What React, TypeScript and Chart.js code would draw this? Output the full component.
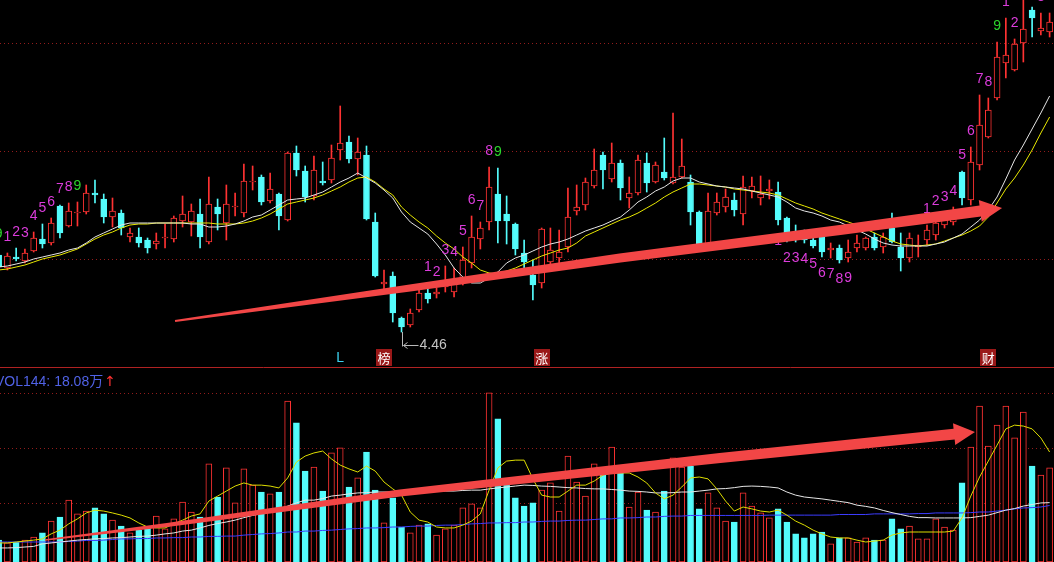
import React, { useEffect, useRef } from 'react';
import { Chart, registerables } from 'chart.js';

Chart.register(...registerables);

// trading-day index (-1 = bar partly cut at the left edge)
const days = [
  -1,
  0, 1, 2, 3, 4, 5, 6, 7, 8, 9,
  10, 11, 12, 13, 14, 15, 16, 17, 18, 19,
  20, 21, 22, 23, 24, 25, 26, 27, 28, 29,
  30, 31, 32, 33, 34, 35, 36, 37, 38, 39,
  40, 41, 42, 43, 44, 45, 46, 47, 48, 49,
  50, 51, 52, 53, 54, 55, 56, 57, 58, 59,
  60, 61, 62, 63, 64, 65, 66, 67, 68, 69,
  70, 71, 72, 73, 74, 75, 76, 77, 78, 79,
  80, 81, 82, 83, 84, 85, 86, 87, 88, 89,
  90, 91, 92, 93, 94, 95, 96, 97, 98, 99,
  100, 101, 102, 103, 104, 105, 106, 107, 108, 109,
  110, 111, 112, 113, 114, 115, 116, 117, 118, 119,
];

const open = [
  5.23,
  5.10, 5.21, 5.17, 5.27, 5.39, 5.35, 5.72, 5.52, 5.65, 5.66,
  5.85, 5.79, 5.61, 5.65, 5.41, 5.41, 5.38, 5.34, 5.40, 5.39,
  5.57, 5.56, 5.64, 5.36, 5.71, 5.55, 5.71, 5.65, 5.96, 6.01,
  5.77, 5.84, 5.58, 6.25, 6.07, 5.82, 5.97, 5.98, 6.28, 6.36,
  6.19, 6.23, 5.56, 4.94, 5.02, 4.60, 4.53, 4.68, 4.85, 4.84,
  4.91, 4.86, 4.95, 5.15, 5.39, 5.56, 5.84, 5.64, 5.54, 5.25,
  5.03, 4.95, 5.16, 5.20, 5.31, 5.67, 5.73, 5.92, 6.23, 5.99,
  6.15, 5.80, 5.85, 6.15, 5.96, 6.06, 5.95, 6.01, 5.96, 5.66,
  5.34, 5.65, 5.71, 5.78, 5.64, 5.87, 5.80, 5.87, 5.86, 5.60,
  5.45, 5.42, 5.38, 5.41, 5.28, 5.30, 5.20, 5.30, 5.30, 5.41,
  5.31, 5.50, 5.31, 5.20, 5.31, 5.38, 5.43, 5.53, 5.56, 6.06,
  5.78, 6.13, 6.41, 6.80, 7.15, 7.08, 7.35, 7.68, 7.47, 7.46,
];

const high = [
  5.28,
  5.25, 5.30, 5.29, 5.46, 5.54, 5.60, 5.73, 5.75, 5.76, 5.93,
  5.98, 5.84, 5.80, 5.68, 5.50, 5.50, 5.40, 5.45, 5.54, 5.62,
  5.82, 5.74, 5.79, 6.01, 5.79, 5.93, 5.85, 6.14, 6.12, 6.03,
  6.05, 5.85, 6.26, 6.32, 6.12, 6.22, 6.16, 6.33, 6.72, 6.42,
  6.40, 6.32, 5.65, 5.08, 5.06, 4.61, 4.69, 4.91, 4.95, 4.90,
  5.12, 5.10, 5.31, 5.62, 5.56, 6.11, 6.10, 5.82, 5.55, 5.38,
  5.18, 5.50, 5.50, 5.48, 5.90, 5.93, 6.00, 6.29, 6.26, 6.35,
  6.18, 6.01, 6.23, 6.25, 6.16, 6.40, 6.65, 6.39, 6.03, 5.67,
  5.85, 5.85, 5.89, 5.85, 6.02, 6.01, 6.02, 5.98, 5.96, 5.61,
  5.53, 5.48, 5.46, 5.43, 5.35, 5.33, 5.38, 5.43, 5.41, 5.45,
  5.45, 5.65, 5.45, 5.45, 5.43, 5.53, 5.61, 5.65, 5.71, 6.07,
  6.31, 6.83, 6.80, 7.36, 7.60, 7.39, 7.85, 7.71, 7.65, 7.65,
];

const low = [
  5.08,
  5.08, 5.17, 5.15, 5.26, 5.30, 5.33, 5.40, 5.51, 5.52, 5.64,
  5.75, 5.55, 5.51, 5.43, 5.36, 5.31, 5.25, 5.29, 5.30, 5.36,
  5.51, 5.42, 5.30, 5.34, 5.48, 5.38, 5.62, 5.61, 5.88, 5.73,
  5.75, 5.48, 5.57, 6.02, 5.76, 5.78, 5.93, 5.95, 6.18, 6.15,
  6.03, 5.58, 5.01, 4.88, 4.56, 4.46, 4.51, 4.66, 4.75, 4.80,
  4.86, 4.81, 4.93, 5.10, 5.29, 5.48, 5.35, 5.34, 5.23, 5.10,
  4.78, 4.90, 5.10, 5.11, 5.26, 5.63, 5.68, 5.90, 5.89, 5.96,
  5.78, 5.70, 5.83, 5.86, 5.95, 5.98, 5.94, 6.00, 5.53, 5.32,
  5.33, 5.63, 5.66, 5.62, 5.53, 5.80, 5.73, 5.79, 5.53, 5.36,
  5.36, 5.35, 5.30, 5.21, 5.20, 5.15, 5.16, 5.26, 5.28, 5.28,
  5.25, 5.35, 5.07, 5.16, 5.21, 5.33, 5.38, 5.50, 5.53, 5.73,
  5.73, 6.08, 6.40, 6.78, 7.00, 7.07, 7.16, 7.41, 7.43, 7.41,
];

const close = [
  5.11,
  5.22, 5.19, 5.25, 5.40, 5.34, 5.55, 5.45, 5.67, 5.66, 5.85,
  5.83, 5.61, 5.67, 5.50, 5.45, 5.35, 5.30, 5.37, 5.41, 5.60,
  5.64, 5.67, 5.41, 5.74, 5.64, 5.74, 5.72, 5.97, 5.97, 5.76,
  5.89, 5.62, 6.25, 6.08, 5.81, 6.08, 5.95, 6.20, 6.35, 6.19,
  6.26, 5.59, 5.02, 4.96, 4.65, 4.51, 4.65, 4.85, 4.79, 4.86,
  4.95, 4.97, 5.18, 5.41, 5.50, 5.91, 5.57, 5.57, 5.29, 5.16,
  4.93, 5.49, 5.28, 5.26, 5.61, 5.71, 5.96, 6.08, 6.08, 6.15,
  5.90, 5.85, 6.18, 5.95, 6.13, 6.00, 6.01, 6.12, 5.66, 5.33,
  5.67, 5.76, 5.81, 5.68, 5.91, 5.92, 5.84, 5.89, 5.58, 5.45,
  5.40, 5.38, 5.32, 5.26, 5.30, 5.18, 5.26, 5.35, 5.40, 5.30,
  5.41, 5.36, 5.20, 5.40, 5.33, 5.48, 5.55, 5.58, 5.60, 5.80,
  6.16, 6.53, 6.68, 7.21, 7.23, 7.34, 7.49, 7.60, 7.50, 7.56,
];

// price moving averages (white, yellow)
const maWhite = [
  5.11,
  5.12, 5.14, 5.16, 5.19, 5.21, 5.23, 5.25, 5.28, 5.30, 5.35,
  5.41, 5.45, 5.49, 5.53, 5.55, 5.55, 5.55, 5.55, 5.55, 5.55,
  5.55, 5.54, 5.54, 5.51, 5.51, 5.52, 5.54, 5.57, 5.61, 5.63,
  5.68, 5.73, 5.78, 5.79, 5.80, 5.83, 5.86, 5.91, 5.96, 6.00,
  6.05, 6.00, 5.95, 5.88, 5.80, 5.66, 5.56, 5.50, 5.44, 5.34,
  5.23, 5.10, 5.01, 4.95, 4.95, 5.00, 5.06, 5.15, 5.20, 5.23,
  5.27, 5.31, 5.34, 5.36, 5.39, 5.43, 5.47, 5.50, 5.53, 5.57,
  5.61, 5.68, 5.76, 5.81, 5.87, 5.91, 5.97, 6.00, 6.00, 5.96,
  5.94, 5.92, 5.91, 5.90, 5.89, 5.87, 5.85, 5.83, 5.81, 5.76,
  5.70, 5.67, 5.65, 5.62, 5.58, 5.56, 5.52, 5.48, 5.44, 5.39,
  5.35, 5.33, 5.32, 5.32, 5.32, 5.32, 5.34, 5.36, 5.40, 5.44,
  5.51, 5.58, 5.68, 5.81, 5.99, 6.18, 6.33, 6.49, 6.65, 6.82,
];

const maYellow = [
  5.08,
  5.09, 5.11, 5.13, 5.16, 5.19, 5.21, 5.23, 5.26, 5.29, 5.34,
  5.39, 5.43, 5.46, 5.50, 5.53, 5.54, 5.54, 5.55, 5.55, 5.55,
  5.55, 5.55, 5.55, 5.55, 5.54, 5.54, 5.54, 5.55, 5.57, 5.60,
  5.64, 5.69, 5.74, 5.76, 5.78, 5.80, 5.83, 5.87, 5.91, 5.96,
  6.00, 6.01, 5.96, 5.89, 5.83, 5.71, 5.63, 5.56, 5.50, 5.42,
  5.35, 5.29, 5.21, 5.15, 5.08, 5.05, 5.04, 5.07, 5.10, 5.14,
  5.18, 5.22, 5.25, 5.28, 5.30, 5.35, 5.42, 5.46, 5.50, 5.54,
  5.58, 5.61, 5.65, 5.70, 5.75, 5.81, 5.86, 5.90, 5.94, 5.94,
  5.93, 5.92, 5.91, 5.89, 5.88, 5.87, 5.86, 5.85, 5.83, 5.79,
  5.75, 5.72, 5.69, 5.65, 5.62, 5.59, 5.56, 5.53, 5.49, 5.45,
  5.41, 5.37, 5.34, 5.33, 5.32, 5.33, 5.34, 5.37, 5.40, 5.43,
  5.47, 5.52, 5.61, 5.75, 5.89, 6.00, 6.13, 6.28, 6.45, 6.61,
];

// volume (万)
const volume = [
  7.0,
  6.1, 6.4, 7.0, 8.0, 9.3, 13.1, 14.4, 19.8, 15.4, 16.3,
  17.3, 15.4, 13.4, 11.5, 9.3, 10.2, 10.9, 14.7, 10.6, 13.8,
  19.2, 16.0, 14.4, 31.4, 20.8, 30.1, 18.9, 29.8, 24.6, 22.4,
  21.8, 22.4, 51.5, 44.5, 29.1, 30.4, 22.7, 34.9, 36.5, 24.0,
  26.9, 35.2, 23.0, 12.5, 20.5, 11.2, 9.3, 11.8, 12.2, 8.6,
  10.6, 11.8, 17.3, 18.6, 17.3, 54.1, 45.8, 24.6, 20.5, 17.9,
  18.9, 23.0, 25.3, 16.3, 33.9, 25.6, 21.1, 31.4, 28.5, 36.8,
  28.5, 17.6, 22.4, 16.6, 16.0, 22.7, 33.3, 30.4, 30.7, 17.0,
  22.1, 17.3, 13.1, 12.8, 22.1, 17.9, 15.7, 14.1, 17.0, 12.8,
  9.0, 7.7, 9.0, 9.6, 5.8, 7.7, 7.7, 6.4, 7.7, 7.0,
  7.0, 13.8, 10.6, 11.5, 7.4, 7.4, 13.8, 11.2, 10.2, 25.3,
  36.8, 49.9, 37.1, 43.8, 49.9, 39.7, 48.0, 30.7, 27.8, 30.1,
];

const volMaYellow = [
  6.1,
  6.1, 6.4, 6.7, 7.0, 7.4, 9.0, 10.2, 12.2, 13.8, 15.7,
  16.6, 16.3, 15.7, 15.0, 14.1, 12.5, 11.2, 10.9, 10.9, 12.2,
  13.4, 14.7, 15.4, 19.5, 21.1, 22.7, 24.3, 25.3, 24.6, 24.6,
  24.3, 23.7, 26.9, 32.0, 33.9, 34.9, 35.5, 33.0, 31.0, 29.8,
  28.8, 30.7, 29.1, 25.6, 23.4, 21.4, 16.0, 13.4, 12.8, 11.2,
  10.9, 10.9, 11.8, 13.1, 15.4, 23.0, 30.1, 32.3, 32.6, 32.6,
  26.6, 21.4, 20.8, 20.8, 22.7, 24.6, 24.6, 25.9, 27.8, 28.5,
  28.5, 28.5, 27.2, 25.3, 22.1, 20.2, 21.4, 24.0, 26.9, 27.2,
  26.6, 23.4, 19.5, 16.3, 17.6, 17.0, 16.3, 16.0, 16.6, 15.0,
  13.1, 11.8, 10.2, 9.0, 8.0, 7.7, 7.7, 7.0, 6.4, 6.7,
  7.0, 8.6, 9.3, 9.6, 9.6, 9.6, 9.6, 9.6, 9.9, 14.1,
  21.1, 27.2, 32.3, 37.4, 42.6, 43.8, 43.5, 42.6, 39.7, 35.2,
];

const volMaWhite = [
  4.5,
  4.5, 4.6, 4.8, 5.0, 5.8, 6.1, 6.4, 6.7, 7.0, 7.2,
  7.4, 7.5, 7.7, 7.8, 8.0, 8.2, 8.3, 8.6, 9.0, 9.3,
  9.9, 10.2, 10.9, 11.7, 12.3, 12.8, 13.4, 14.2, 14.9, 15.5,
  16.0, 17.0, 17.9, 18.9, 19.8, 19.8, 20.3, 21.1, 21.4, 21.8,
  22.1, 22.2, 22.4, 22.4, 22.4, 22.4, 22.4, 22.4, 22.4, 22.6,
  22.7, 22.7, 22.9, 23.0, 23.0, 23.4, 23.7, 24.0, 24.3, 24.6,
  24.5, 24.3, 24.2, 24.0, 23.8, 23.7, 23.5, 23.4, 23.4, 23.2,
  23.0, 22.7, 22.6, 22.4, 22.1, 22.1, 22.2, 22.4, 22.4, 22.7,
  23.0, 23.4, 23.5, 23.8, 24.2, 24.3, 24.2, 24.0, 23.7, 22.4,
  21.4, 20.8, 20.5, 20.2, 19.8, 19.4, 19.0, 18.2, 17.8, 17.3,
  16.5, 15.8, 15.2, 14.6, 14.2, 14.2, 14.1, 14.1, 14.1, 14.1,
  14.2, 14.6, 15.0, 15.8, 16.6, 17.1, 17.9, 18.4, 18.9, 19.0,
];

const volMa144 = [
  6.4,
  6.4, 6.4, 6.4, 6.4, 6.4, 6.4, 6.4, 6.6, 6.7, 6.9,
  6.9, 7.0, 7.2, 7.4, 7.4, 7.5, 7.5, 7.7, 7.7, 7.8,
  7.8, 8.0, 8.0, 8.2, 8.2, 8.3, 8.3, 8.6, 8.8, 9.0,
  9.1, 9.3, 9.6, 9.6, 9.9, 9.9, 10.1, 10.2, 10.4, 10.6,
  10.7, 10.9, 10.9, 11.0, 11.2, 11.2, 11.4, 11.5, 11.5, 11.7,
  11.8, 11.8, 12.0, 12.2, 12.3, 12.5, 12.5, 12.6, 12.6, 12.8,
  12.8, 13.0, 13.1, 13.1, 13.3, 13.4, 13.4, 13.6, 13.8, 13.8,
  14.1, 14.1, 14.2, 14.4, 14.4, 14.6, 14.7, 14.7, 14.9, 14.9,
  14.9, 14.9, 14.9, 14.9, 14.9, 14.9, 14.9, 15.0, 15.0, 15.0,
  15.0, 15.0, 15.0, 15.0, 15.0, 15.2, 15.2, 15.2, 15.2, 15.4,
  15.4, 15.4, 15.4, 15.4, 15.5, 15.5, 15.7, 15.7, 15.7, 15.7,
  15.8, 16.0, 16.0, 16.3, 16.6, 17.0, 17.3, 17.4, 17.6, 18.08,
];

// TD-style count labels
const tdTopDays = [-1, 0, 1, 2, 3, 4, 5, 6, 7, 8, 48, 49, 50, 51, 52, 53, 54, 55, 56, 105, 106, 107, 108, 109, 110, 111, 112, 113, 114, 115, 118];
const tdTopText = ['9', '1', '2', '3', '4', '5', '6', '7', '8', '9', '1', '2', '3', '4', '5', '6', '7', '8', '9', '1', '2', '3', '4', '5', '6', '7', '8', '9', '1', '2', '3'];
const tdBotDays = [88, 89, 90, 91, 92, 93, 94, 95, 96];
const tdBotText = ['1', '2', '3', '4', '5', '6', '7', '8', '9'];

// event markers under the candles
const markDays = [38, 43, 61, 112];
const markText = ['L', '榜', '涨', '财'];
const markBoxed = [false, true, true, true];

const lowMarkDay = 45;

// hand-drawn trend arrows (day index, value) from tail to tip, widths in px
const arrowTopDays = [19.14, 45.97, 69.95, 95.07, 113.57];
const arrowTopPrice = [4.57, 4.90, 5.20, 5.48, 5.70];
const arrowTopWidth = [2, 7, 9, 10, 11];
const arrowVolDays = [4.29, 18.22, 44.83, 81.37, 110.48];
const arrowVolValue = [7.04, 11.84, 22.08, 33.28, 41.6];
const arrowVolWidth = [1.5, 4, 7, 10, 11];

const priceGrid = [5.19, 6.27, 7.35];
const volGrid = [18.88, 36.48, 54.08];

const RED = '#ff3232';
const CYAN = '#54fcfc';
const GRID = '#921c1c';
const MAGENTA = '#dc3cdc';
const GREEN = '#2cd62c';
const ARROW = '#f24646';
const X_MIN = -0.845;
const X_MAX = 119.5;

const isUp = days.map((_, k) => close[k] >= open[k]);

function taperArrow(ctx: CanvasRenderingContext2D, pts: number[][], widths: number[], headLen: number, headHalf: number, color: string) {
  const n = pts.length;
  const tip = pts[n - 1];
  const prev = pts[n - 2];
  let ux = tip[0] - prev[0];
  let uy = tip[1] - prev[1];
  const ul = Math.hypot(ux, uy) || 1;
  ux /= ul; uy /= ul;
  const base = [tip[0] - ux * headLen, tip[1] - uy * headLen];
  const shaft = pts.slice(0, n - 1).concat([base]);
  const L: number[][] = [];
  const R: number[][] = [];
  for (let i = 0; i < shaft.length; i++) {
    const a = shaft[Math.max(0, i - 1)];
    const b = shaft[Math.min(shaft.length - 1, i + 1)];
    let tx = b[0] - a[0];
    let ty = b[1] - a[1];
    const tl = Math.hypot(tx, ty) || 1;
    tx /= tl; ty /= tl;
    const h = widths[i] / 2;
    L.push([shaft[i][0] - ty * h, shaft[i][1] + tx * h]);
    R.push([shaft[i][0] + ty * h, shaft[i][1] - tx * h]);
  }
  ctx.beginPath();
  ctx.moveTo(L[0][0], L[0][1]);
  for (let i = 1; i < L.length; i++) ctx.lineTo(L[i][0], L[i][1]);
  ctx.lineTo(base[0] - uy * headHalf, base[1] + ux * headHalf);
  ctx.lineTo(tip[0], tip[1]);
  ctx.lineTo(base[0] + uy * headHalf, base[1] - ux * headHalf);
  for (let i = R.length - 1; i >= 0; i--) ctx.lineTo(R[i][0], R[i][1]);
  ctx.closePath();
  ctx.fillStyle = color;
  ctx.fill();
}

function drawGrid(chart: any, values: number[]) {
  const { ctx, scales } = chart;
  ctx.save();
  ctx.strokeStyle = GRID;
  ctx.lineWidth = 1;
  ctx.setLineDash([1, 3]);
  for (const g of values) {
    const y = Math.round(scales.y.getPixelForValue(g)) + 0.5;
    ctx.beginPath();
    ctx.moveTo(0, y);
    ctx.lineTo(chart.width, y);
    ctx.stroke();
  }
  ctx.restore();
}

const topDecor = {
  id: 'topDecor',
  beforeDatasetsDraw(chart: any) {
    drawGrid(chart, priceGrid);
  },
  afterDatasetsDraw(chart: any) {
    const { ctx, scales } = chart;
    const xs = scales.x;
    const ys = scales.y;
    ctx.save();
    ctx.font = '14px "Liberation Sans", Arial, sans-serif';
    ctx.textAlign = 'center';
    ctx.textBaseline = 'middle';
    tdTopDays.forEach((d, j) => {
      const k = days.indexOf(d);
      ctx.fillStyle = tdTopText[j] === '9' ? GREEN : MAGENTA;
      ctx.fillText(tdTopText[j], xs.getPixelForValue(d), ys.getPixelForValue(high[k]) - 16);
    });
    tdBotDays.forEach((d, j) => {
      const k = days.indexOf(d);
      ctx.fillStyle = MAGENTA;
      ctx.fillText(tdBotText[j], xs.getPixelForValue(d), ys.getPixelForValue(low[k]) + 16);
    });

    // markers
    markDays.forEach((d, j) => {
      const x = xs.getPixelForValue(d);
      if (markBoxed[j]) {
        ctx.fillStyle = '#9a1818';
        ctx.fillRect(Math.round(x - 8), 349, 16, 17);
        ctx.fillStyle = '#ffffff';
        ctx.font = '13px "Noto Sans CJK SC", sans-serif';
        ctx.fillText(markText[j], x, 358);
      } else {
        ctx.fillStyle = '#3cd2f0';
        ctx.font = '14px "Liberation Sans", Arial, sans-serif';
        ctx.fillText(markText[j], x, 358);
      }
    });

    // lowest-price pointer
    const kl = days.indexOf(lowMarkDay);
    const lx = Math.round(xs.getPixelForValue(lowMarkDay)) + 0.5;
    const ly = ys.getPixelForValue(low[kl]);
    const ay = Math.round(ly + 13) + 0.5;
    ctx.strokeStyle = '#b8b8b8';
    ctx.lineWidth = 1;
    ctx.beginPath();
    ctx.moveTo(lx, ly);
    ctx.lineTo(lx, ay + 1);
    ctx.moveTo(lx + 1, ay);
    ctx.lineTo(lx + 16, ay);
    ctx.moveTo(lx + 1, ay);
    ctx.lineTo(lx + 5, ay - 3);
    ctx.moveTo(lx + 1, ay);
    ctx.lineTo(lx + 5, ay + 3);
    ctx.stroke();
    ctx.fillStyle = '#c4c4c4';
    ctx.font = '14px "Liberation Sans", Arial, sans-serif';
    ctx.textAlign = 'left';
    ctx.fillText(low[kl].toFixed(2), lx + 17, ay);

    // trend arrow
    const pts = arrowTopDays.map((d, j) => [xs.getPixelForValue(d), ys.getPixelForValue(arrowTopPrice[j])]);
    taperArrow(ctx, pts, arrowTopWidth, 22, 11, ARROW);

    // panel separator
    ctx.strokeStyle = '#b02222';
    ctx.lineWidth = 1;
    ctx.beginPath();
    ctx.moveTo(0, chart.height - 0.5);
    ctx.lineTo(chart.width, chart.height - 0.5);
    ctx.stroke();
    ctx.restore();
  },
};

const volDecor = {
  id: 'volDecor',
  beforeDatasetsDraw(chart: any) {
    drawGrid(chart, volGrid);
  },
  afterDatasetsDraw(chart: any) {
    const { ctx, scales } = chart;
    const xs = scales.x;
    const ys = scales.y;
    ctx.save();
    const pts = arrowVolDays.map((d, j) => [xs.getPixelForValue(d), ys.getPixelForValue(arrowVolValue[j])]);
    taperArrow(ctx, pts, arrowVolWidth, 21, 11, ARROW);

    ctx.font = '14px "Liberation Sans", "Noto Sans CJK SC", sans-serif';
    ctx.textAlign = 'left';
    ctx.textBaseline = 'middle';
    const label = 'VOL144: ' + volMa144[volMa144.length - 1].toFixed(2) + '万';
    ctx.fillStyle = '#5062e6';
    ctx.fillText(label, -5, 14);
    const w = ctx.measureText(label).width;
    ctx.fillStyle = RED;
    ctx.font = '14px "DejaVu Sans", sans-serif';
    ctx.fillText('↑', -5 + w + 1, 14);
    ctx.restore();
  },
};

const lineDs = (label: string, data: number[], color: string) => ({
  type: 'line' as const,
  label,
  data: days.map((d, k) => ({ x: d, y: data[k] })),
  borderColor: color,
  borderWidth: 1,
  pointRadius: 0,
  tension: 0,
  fill: false,
});

export default function App() {
  const topRef = useRef<HTMLCanvasElement>(null);
  const volRef = useRef<HTMLCanvasElement>(null);

  useEffect(() => {
    document.body.style.margin = '0';
    document.body.style.background = '#000';

    const common = {
      responsive: false,
      animation: false as const,
      events: [] as any[],
      layout: { padding: 0, autoPadding: false },
      plugins: { legend: { display: false }, tooltip: { enabled: false } },
    };

    const top = new Chart(topRef.current as HTMLCanvasElement, {
      type: 'bar',
      data: {
        datasets: [
          lineDs('MA white', maWhite, '#e6e6e6'),
          lineDs('MA yellow', maYellow, '#e8e800'),
          {
            type: 'bar',
            label: 'body',
            data: days.map((d, k) => ({ x: d, y: [Math.min(open[k], close[k]), Math.max(open[k], close[k])] })),
            backgroundColor: isUp.map((u) => (u ? '#000000' : CYAN)),
            borderColor: isUp.map((u) => (u ? RED : CYAN)),
            borderWidth: 1,
            borderSkipped: false,
            barThickness: 6,
            grouped: false,
          } as any,
          {
            type: 'bar',
            label: 'wick',
            data: days.map((d, k) => ({ x: d, y: [low[k], high[k]] })),
            backgroundColor: isUp.map((u) => (u ? RED : CYAN)),
            borderWidth: 0,
            barThickness: 1,
            grouped: false,
          } as any,
        ],
      },
      options: {
        ...common,
        scales: {
          x: { type: 'linear', display: false, min: X_MIN, max: X_MAX, offset: false },
          y: { type: 'linear', display: false, min: 4.10, max: 7.78 },
        },
      } as any,
      plugins: [topDecor],
    });

    const vol = new Chart(volRef.current as HTMLCanvasElement, {
      type: 'bar',
      data: {
        datasets: [
          lineDs('MA5', volMaYellow, '#dede00'),
          lineDs('MA white', volMaWhite, '#e6e6e6'),
          lineDs('VOL144', volMa144, '#3c3cff'),
          {
            type: 'bar',
            label: 'volume',
            data: days.map((d, k) => ({ x: d, y: volume[k] })),
            backgroundColor: isUp.map((u) => (u ? '#000000' : CYAN)),
            borderColor: isUp.map((u) => (u ? RED : CYAN)),
            borderWidth: 1,
            borderSkipped: false,
            barThickness: 6,
            grouped: false,
          } as any,
        ],
      },
      options: {
        ...common,
        scales: {
          x: { type: 'linear', display: false, min: X_MIN, max: X_MAX, offset: false },
          y: { type: 'linear', display: false, min: 0, max: 62.08 },
        },
      } as any,
      plugins: [volDecor],
    });

    return () => {
      top.destroy();
      vol.destroy();
    };
  }, []);

  return (
    <div style={{ position: 'fixed', left: 0, top: 0, width: 1054, height: 562, background: '#000', overflow: 'hidden' }}>
      <canvas ref={topRef} width={1054} height={368} style={{ display: 'block', width: 1054, height: 368 }} />
      <canvas ref={volRef} width={1054} height={194} style={{ display: 'block', width: 1054, height: 194 }} />
    </div>
  );
}
